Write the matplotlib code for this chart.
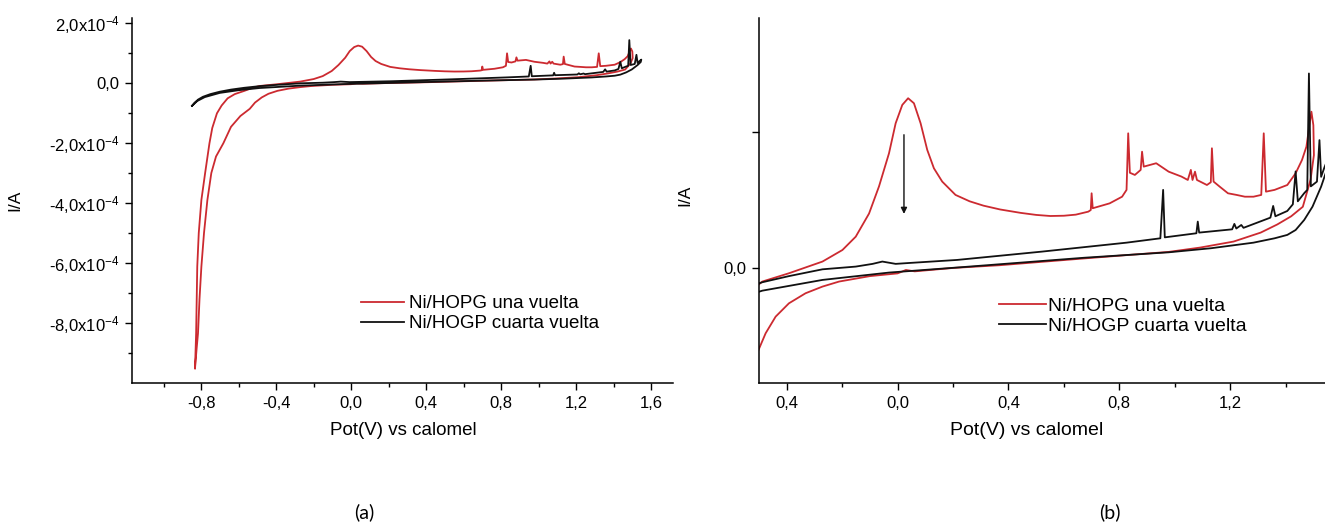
import matplotlib
matplotlib.use('Agg')
import matplotlib.pyplot as plt
from matplotlib.ticker import FixedLocator

plt.rcParams['font.family'] = ['Liberation Sans', 'DejaVu Sans']
plt.rcParams['mathtext.fontset'] = 'custom'
plt.rcParams['mathtext.rm'] = 'Liberation Sans'
plt.rcParams['mathtext.it'] = 'Liberation Sans:italic'

# ---------------- data (potential in V, current in units of 1e-4 A) ----------------
red_label = "Ni/HOPG una vuelta"
black_label = "Ni/HOGP cuarta vuelta"

# Ni/HOPG: forward scan (tip -> peak -> plateau -> 1.5 V) then return scan back to the tip
red_v = [-0.832, -0.826, -0.820, -0.812, -0.798, -0.778, -0.755, -0.740, -0.715, -0.690,
         -0.658, -0.620, -0.568, -0.530, -0.488, -0.392, -0.271, -0.199, -0.151, -0.103,
         -0.067, -0.031, -0.007, 0.017, 0.038, 0.059, 0.083, 0.107, 0.131, 0.161,
         0.209, 0.260, 0.310, 0.370, 0.444, 0.500, 0.551, 0.600, 0.643, 0.688, 0.697, 0.700, 0.704,
         0.765, 0.810, 0.826, 0.832, 0.838, 0.856, 0.877, 0.882, 0.888, 0.933,
         0.978, 1.024, 1.047, 1.058, 1.064, 1.073, 1.080, 1.116, 1.130, 1.134,
         1.140, 1.162, 1.192, 1.223, 1.253, 1.284, 1.312, 1.321, 1.329, 1.360,
         1.406, 1.436, 1.459, 1.475, 1.485, 1.493, 1.500,
         1.502, 1.490, 1.462, 1.420, 1.370, 1.310, 1.212, 1.092, 0.978, 0.830,
         0.673, 0.520, 0.368, 0.200, 0.062, 0.030, 0.000, -0.100, -0.211, -0.271,
         -0.332, -0.392, -0.440, -0.476, -0.512, -0.540, -0.590, -0.640, -0.681, -0.720,
         -0.745, -0.766, -0.784, -0.798, -0.808, -0.816, -0.824, -0.832]
red_i = [-9.51, -8.34, -6.12, -5.00, -3.90, -3.00, -2.01, -1.50, -1.01, -0.75,
         -0.51, -0.37, -0.26, -0.17, -0.100, -0.039, 0.047, 0.132, 0.230, 0.400,
         0.600, 0.843, 1.064, 1.199, 1.248, 1.211, 1.064, 0.868, 0.733, 0.635,
         0.537, 0.490, 0.458, 0.430, 0.405, 0.390, 0.382, 0.384, 0.392, 0.414, 0.426, 0.549, 0.439,
         0.475, 0.524, 0.574, 0.990, 0.700, 0.684, 0.721, 0.855, 0.745, 0.770,
         0.708, 0.672, 0.647, 0.721, 0.647, 0.708, 0.647, 0.610, 0.630, 0.880,
         0.635, 0.598, 0.549, 0.537, 0.524, 0.524, 0.537, 0.990, 0.561, 0.574,
         0.610, 0.696, 0.794, 0.892, 1.039, 1.149, 1.050,
         0.830, 0.650, 0.450, 0.380, 0.320, 0.260, 0.194, 0.150, 0.118, 0.095,
         0.070, 0.045, 0.020, 0.000, -0.025, -0.015, -0.040, -0.060, -0.100, -0.137,
         -0.186, -0.260, -0.358, -0.480, -0.652, -0.860, -1.100, -1.460, -2.010, -2.450,
         -3.000, -3.900, -5.000, -6.120, -7.200, -8.340, -8.900, -9.510]

# Ni/HOGP: forward scan (upper line with spikes) then return scan (lower smooth line)
black_v = [-0.848, -0.835, -0.815, -0.790, -0.750, -0.700, -0.640, -0.570, -0.488, -0.392,
           -0.271, -0.151, -0.090, -0.055, -0.007, 0.030, 0.215, 0.520, 0.826, 0.948,
           0.958, 0.964, 1.078, 1.083, 1.088, 1.207, 1.215, 1.222, 1.240, 1.248,
           1.314, 1.345, 1.355, 1.363, 1.406, 1.426, 1.436, 1.444, 1.467, 1.478,
           1.484, 1.491, 1.513, 1.522, 1.528, 1.540, 1.548,
           1.545, 1.528, 1.497, 1.467, 1.436, 1.406, 1.360, 1.284, 1.131, 0.978,
           0.673, 0.227, -0.031, -0.271, -0.488, -0.600, -0.700, -0.780, -0.820, -0.848]
black_i = [-0.76, -0.66, -0.55, -0.46, -0.37, -0.29, -0.22, -0.16, -0.105, -0.060,
           -0.010, 0.010, 0.030, 0.047, 0.030, 0.035, 0.059, 0.120, 0.186, 0.218,
           0.574, 0.225, 0.255, 0.341, 0.260, 0.284, 0.324, 0.290, 0.316, 0.295,
           0.346, 0.370, 0.456, 0.380, 0.419, 0.468, 0.710, 0.490, 0.550, 0.574,
           1.430, 0.600, 0.635, 0.940, 0.670, 0.740, 0.780,
           0.700, 0.598, 0.451, 0.353, 0.279, 0.243, 0.218, 0.186, 0.145, 0.115,
           0.075, 0.005, -0.034, -0.088, -0.167, -0.240, -0.330, -0.470, -0.600, -0.760]

# arrow drawn in panel (b): (V, I) of tail and head
arrow_v = [0.023, 0.023]
arrow_i = [1.00, 0.377]

a_yticks = [2, 0, -2, -4, -6, -8]
a_yticklabels = [r"2,0x10$^{-4}$", "0,0", r"-2,0x10$^{-4}$", r"-4,0x10$^{-4}$",
                 r"-6,0x10$^{-4}$", r"-8,0x10$^{-4}$"]
a_xticks = [-0.8, -0.4, 0.0, 0.4, 0.8, 1.2, 1.6]
a_xticklabels = ["-0,8", "-0,4", "0,0", "0,4", "0,8", "1,2", "1,6"]
b_xticks = [-0.4, 0.0, 0.4, 0.8, 1.2]
b_xticklabels = ["0,4", "0,0", "0,4", "0,8", "1,2"]
b_yticks = [0.0, 1.0]
b_yticklabels = ["0,0", ""]

xlabel = "Pot(V) vs calomel"
ylabel = "I/A"

RED = "#cc2a30"
BLACK = "#111111"

W, H = 1325, 524
fig = plt.figure(figsize=(W / 100, H / 100), dpi=100)

def px_axes(x0, x1, y0, y1):
    return fig.add_axes([x0 / W, 1 - y1 / H, (x1 - x0) / W, (y1 - y0) / H])

axA = px_axes(132, 673, 18, 383)
axB = px_axes(759, 1325, 18, 383)

for ax in (axA, axB):
    ax.spines['top'].set_visible(False)
    ax.spines['right'].set_visible(False)
    for s in ('left', 'bottom'):
        ax.spines[s].set_linewidth(1.1)
    ax.tick_params(which='major', direction='out', length=5, width=1.0, labelsize=12, pad=4)
    ax.tick_params(which='minor', direction='out', length=3, width=1.0)

# ---------- panel (a) ----------
axA.plot(red_v, red_i, color=RED, lw=1.3, label=red_label)
axA.plot(black_v, black_i, color=BLACK, lw=1.3, label=black_label)
axA.set_xlim(-1.168, 1.717)
axA.set_ylim(-10.0, 2.167)
axA.yaxis.set_major_locator(FixedLocator(a_yticks))
axA.set_yticklabels(a_yticklabels)
axA.yaxis.set_minor_locator(FixedLocator([1, -1, -3, -5, -7, -9]))
axA.xaxis.set_major_locator(FixedLocator(a_xticks))
axA.set_xticklabels(a_xticklabels)
axA.xaxis.set_minor_locator(FixedLocator([-1.0, -0.6, -0.2, 0.2, 0.6, 1.0, 1.4]))
axA.set_xlabel(xlabel, fontsize=13.5)
axA.xaxis.label.set_va('center')
axA.xaxis.set_label_coords(0.501, -0.129)
axA.set_ylabel(ylabel, fontsize=12.5)
axA.yaxis.label.set_va('center')
axA.yaxis.set_label_coords(-0.216, 0.501)
axA.legend(loc='upper left', bbox_to_anchor=(361 / W, 1 - 295 / H), bbox_transform=fig.transFigure,
           frameon=False, handlelength=2.3, handletextpad=0.25, labelspacing=0.15,
           borderpad=0, borderaxespad=0, fontsize=13.5)

# ---------- panel (b) ----------
axB.plot(red_v, red_i, color=RED, lw=1.3, label=red_label)
axB.plot(black_v, black_i, color=BLACK, lw=1.3, label=black_label)
axB.set_xlim(-0.5, 1.542)
axB.set_ylim(-0.846, 1.838)
axB.xaxis.set_major_locator(FixedLocator(b_xticks))
axB.set_xticklabels(b_xticklabels)
axB.xaxis.set_minor_locator(FixedLocator([-0.2, 0.2, 0.6, 1.0, 1.4]))
axB.yaxis.set_major_locator(FixedLocator(b_yticks))
axB.set_yticklabels(b_yticklabels)
axB.annotate('', xy=(arrow_v[1], arrow_i[1]), xytext=(arrow_v[0], arrow_i[0]),
             arrowprops=dict(arrowstyle='-|>', color=BLACK, lw=1.0, mutation_scale=9))
axB.set_xlabel(xlabel, fontsize=14)
axB.xaxis.label.set_va('center')
axB.xaxis.set_label_coords(0.4735, -0.1315)
axB.set_ylabel(ylabel, fontsize=12.5)
axB.yaxis.label.set_va('center')
axB.yaxis.set_label_coords(-0.1307, 0.515)
axB.legend(loc='upper left', bbox_to_anchor=(999 / W, 1 - 297 / H), bbox_transform=fig.transFigure,
           frameon=False, handlelength=2.4, handletextpad=0.1, labelspacing=0.15,
           borderpad=0, borderaxespad=0, fontsize=14)

fig.text(364 / W, 1 - 512 / H, "(a)", ha='center', va='center', fontsize=14, family=['Lato', 'DejaVu Sans'])
fig.text(1110 / W, 1 - 512 / H, "(b)", ha='center', va='center', fontsize=14, family=['Lato', 'DejaVu Sans'])

fig.savefig("out.png", dpi=100)
